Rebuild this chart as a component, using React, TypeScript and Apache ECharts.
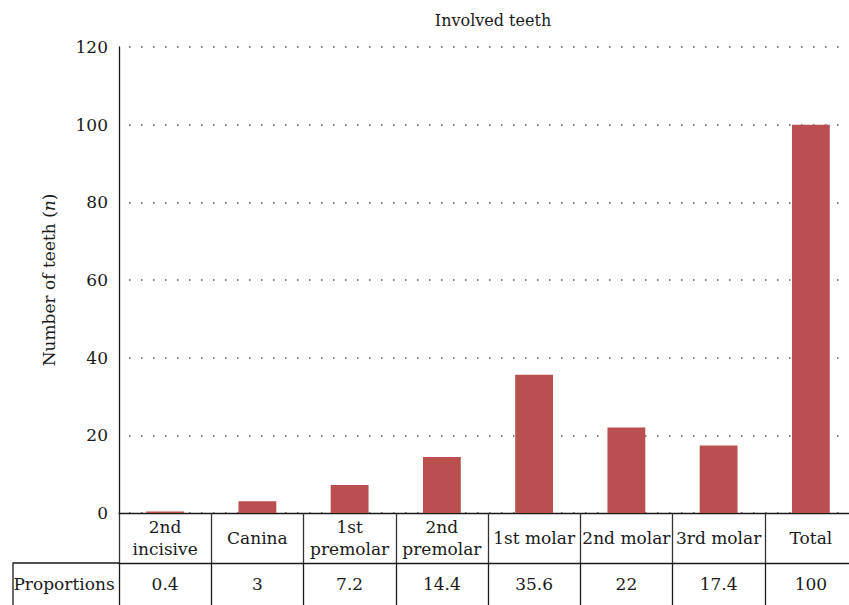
import React, { useEffect, useRef } from "react";
import * as echarts from "echarts";

const categories = ["2nd\nincisive", "Canina", "1st\npremolar", "2nd\npremolar", "1st molar", "2nd molar", "3rd molar", "Total"];
const values = [0.4, 3, 7.2, 14.4, 35.6, 22, 17.4, 100];
const proportionLabels = values.map((v) => String(v));
const yTicks = { min: 0, max: 120, interval: 20 };

const FONT = "DejaVu Serif";
const INK = "#1a1a1a";
const FS = 17;

export default function App() {
  const ref = useRef<HTMLDivElement>(null);
  useEffect(() => {
    document.body.style.margin = "0";
    const chart = echarts.init(ref.current!, undefined, { renderer: "svg" });
    chart.setOption({
      animation: false,
      backgroundColor: "#ffffff",
      textStyle: { fontFamily: FONT, color: INK },
      title: {
        text: "Involved teeth",
        left: 488,
        top: 7,
        textAlign: "center",
        textStyle: { fontFamily: FONT, fontSize: 16, fontWeight: "normal", color: INK },
      },
      grid: { left: 119, right: -8, top: 47, bottom: 92, outerBoundsMode: "none" },
      xAxis: [
        {
          type: "category",
          data: categories,
          position: "bottom",
          axisLine: { show: true, lineStyle: { color: INK, width: 1.3 } },
          axisTick: { show: true, interval: 0, length: 50, lineStyle: { color: "#333", width: 1.3 } },
          axisLabel: {
            interval: 0,
            margin: 25,
            verticalAlign: "middle",
            lineHeight: 22,
            fontFamily: FONT,
            fontSize: FS,
            color: INK,
          },
        },
        {
          type: "category",
          data: proportionLabels,
          position: "bottom",
          offset: 50,
          axisLine: { show: true, lineStyle: { color: INK, width: 1.3 } },
          axisTick: { show: true, interval: 0, length: 45, lineStyle: { color: INK, width: 1.3 } },
          axisLabel: {
            interval: 0,
            margin: 21,
            verticalAlign: "middle",
            fontFamily: FONT,
            fontSize: FS,
            color: INK,
          },
        },
      ],
      yAxis: {
        type: "value",
        min: yTicks.min,
        max: yTicks.max,
        interval: yTicks.interval,
        name: "{a|Number of teeth (}{i|n}{a|)}",
        nameLocation: "middle",
        nameRotate: 90,
        nameGap: 62,
        nameTextStyle: {
          rich: {
            a: { fontFamily: FONT, fontSize: FS, color: INK },
            i: { fontFamily: FONT, fontSize: FS, fontStyle: "italic", color: INK },
          },
        },
        axisLine: { show: true, lineStyle: { color: INK, width: 1.3 } },
        axisTick: { show: false },
        axisLabel: { margin: 11, fontFamily: FONT, fontSize: FS, color: INK },
        splitLine: {
          show: true,
          lineStyle: { color: "#555", width: 1.5, type: [1.5, 10.5], dashOffset: 1.5 },
        },
      },
      series: [
        {
          type: "bar",
          data: values,
          xAxisIndex: 0,
          barWidth: "41%",
          itemStyle: { color: "#b9504f" },
        },
      ],
      graphic: [
        {
          type: "polyline",
          shape: { points: [[13, 606], [13, 563], [119, 563]] },
          style: { stroke: INK, lineWidth: 1.3, fill: "none" },
        },
        {
          type: "text",
          x: 64,
          y: 584,
          style: {
            text: "Proportions",
            fontFamily: FONT,
            fontSize: FS,
            fill: INK,
            align: "center",
            verticalAlign: "middle",
          },
        },
      ],
    });
    return () => chart.dispose();
  }, []);
  return <div ref={ref} style={{ width: 849, height: 605 }} />;
}
